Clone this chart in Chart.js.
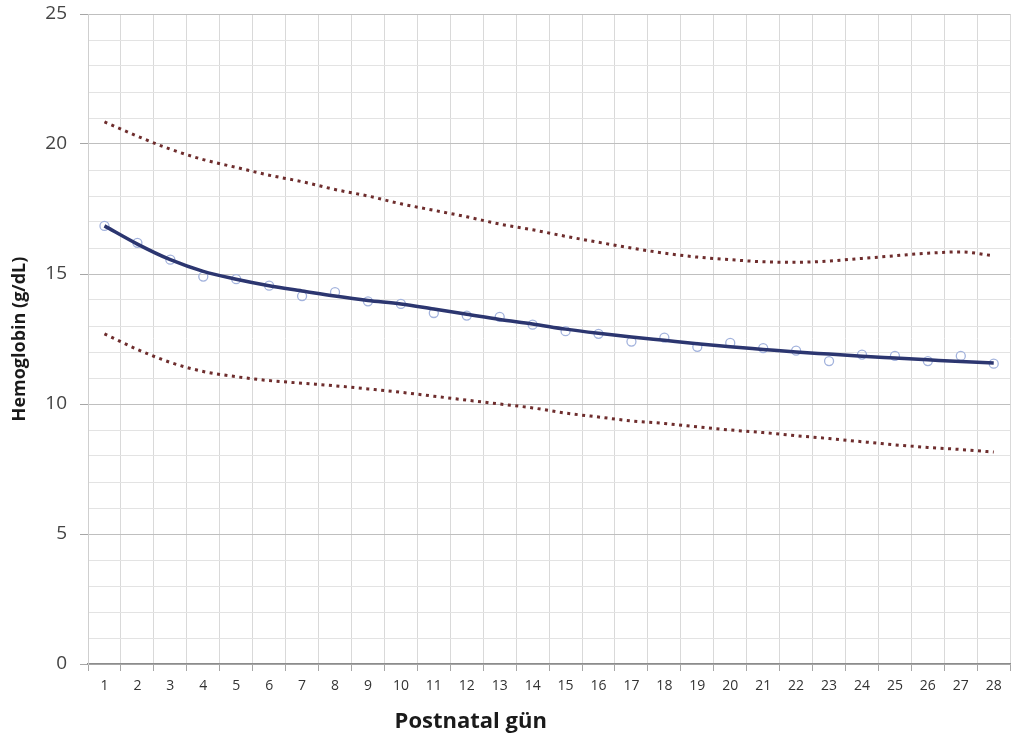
<!DOCTYPE html>
<html>
<head>
<meta charset="utf-8">
<script src="https://cdn.jsdelivr.net/npm/chart.js@4/dist/chart.umd.min.js"></script>
<style>
html,body{margin:0;padding:0;background:#fff;}
#wrap{width:1016px;height:742px;position:relative;}
</style>
</head>
<body>
<div id="wrap"><canvas id="c" width="1016" height="742"></canvas></div>
<script>
const days = ['1','2','3','4','5','6','7','8','9','10','11','12','13','14','15','16','17','18','19','20','21','22','23','24','25','26','27','28'];
const observed = [16.85,16.2,15.55,14.9,14.8,14.55,14.15,14.3,13.95,13.85,13.5,13.4,13.35,13.05,12.8,12.7,12.4,12.55,12.2,12.35,12.15,12.05,11.65,11.9,11.85,11.65,11.85,11.55];
const trend = [16.85,16.15,15.55,15.1,14.8,14.55,14.35,14.15,13.98,13.85,13.65,13.45,13.25,13.08,12.88,12.72,12.58,12.45,12.32,12.2,12.1,12.0,11.92,11.84,11.77,11.7,11.63,11.58];
const upper = [20.85,20.3,19.8,19.4,19.1,18.8,18.55,18.25,18.0,17.7,17.45,17.2,16.92,16.7,16.45,16.22,16.0,15.8,15.65,15.55,15.47,15.45,15.5,15.6,15.7,15.8,15.85,15.7];
const lower = [12.7,12.1,11.6,11.25,11.05,10.9,10.8,10.7,10.58,10.45,10.3,10.15,10.0,9.85,9.65,9.5,9.35,9.25,9.12,9.0,8.9,8.78,8.67,8.55,8.43,8.33,8.25,8.15];
const yTickLabels = [0,5,10,15,20,25];
const xTitle = 'Postnatal gün';
const yTitle = 'Hemoglobin (g/dL)';

const FONT = "'Open Sans', 'DejaVu Sans', sans-serif";

// x-axis title sits left of the plot centre in the reference
const xTitlePlugin = {
  id: 'xTitlePlugin',
  afterDraw(chart) {
    const ctx = chart.ctx;
    const xs = chart.scales.x;
    ctx.save();
    ctx.font = "bold 22px " + FONT;
    ctx.fillStyle = '#1a1a1a';
    ctx.textAlign = 'center';
    ctx.textBaseline = 'middle';
    const cx = xs.left + (xs.right - xs.left) * 0.415;
    ctx.fillText(xTitle, cx, xs.bottom - 20);
    ctx.restore();
  }
};

new Chart(document.getElementById('c'), {
  type: 'line',
  data: {
    labels: days,
    datasets: [
      {
        data: trend,
        borderColor: '#2c3670',
        borderWidth: 3.5,
        pointRadius: 0,
        cubicInterpolationMode: 'monotone',
        fill: false
      },
      {
        data: observed,
        showLine: false,
        pointRadius: 4.5,
        pointBorderWidth: 1.3,
        pointBorderColor: '#a3b3dd',
        pointBackgroundColor: 'rgba(255,255,255,0)'
      },
      {
        data: upper,
        borderColor: '#6e2d2d',
        borderWidth: 3,
        borderDash: [3, 4.5],
        pointRadius: 0,
        cubicInterpolationMode: 'monotone',
        fill: false
      },
      {
        data: lower,
        borderColor: '#6e2d2d',
        borderWidth: 3,
        borderDash: [3, 4.5],
        pointRadius: 0,
        cubicInterpolationMode: 'monotone',
        fill: false
      }
    ]
  },
  plugins: [xTitlePlugin],
  options: {
    responsive: false,
    animation: false,
    devicePixelRatio: 1,
    layout: { padding: { top: 14, right: 4, left: 0, bottom: 0 } },
    plugins: { legend: { display: false }, tooltip: { enabled: false } },
    scales: {
      x: {
        offset: true,
        grid: {
          offset: true,
          color: '#d9d9d9',
          lineWidth: 1,
          drawTicks: true,
          tickLength: 7,
          tickColor: '#a6a6a6'
        },
        border: { color: '#8c8c8c', width: 1.5 },
        ticks: {
          color: '#333333',
          font: { family: FONT, size: 14 },
          padding: 7,
          maxRotation: 0,
          autoSkip: false
        },
        title: { display: false },
        afterFit: (s) => { s.height = 78; s.paddingLeft = 0; s.paddingRight = 0; }
      },
      y: {
        min: 0,
        max: 25,
        afterBuildTicks: (s) => {
          const t = [];
          for (let v = 0; v <= 25; v++) t.push({ value: v });
          s.ticks = t;
        },
        grid: {
          color: (ctx) => (ctx.tick && yTickLabels.includes(ctx.tick.value)) ? '#bfbfbf' : '#e3e3e3',
          lineWidth: 1,
          drawTicks: true,
          tickLength: 8,
          tickColor: (ctx) => (ctx.tick && yTickLabels.includes(ctx.tick.value)) ? '#a6a6a6' : 'rgba(0,0,0,0)'
        },
        border: { color: '#cfcfcf', width: 1 },
        ticks: {
          color: '#444444',
          font: { family: FONT, size: 19 },
          padding: 13,
          autoSkip: false,
          callback: (v) => yTickLabels.includes(v) ? String(v) : ''
        },
        title: {
          display: true,
          text: yTitle,
          color: '#1a1a1a',
          font: { family: FONT, size: 18, weight: 'bold' },
          padding: { top: 9, bottom: 0 }
        },
        afterFit: (s) => { s.width = 88; s.paddingTop = 0; s.paddingBottom = 0; }
      }
    }
  }
});
</script>
</body>
</html>
